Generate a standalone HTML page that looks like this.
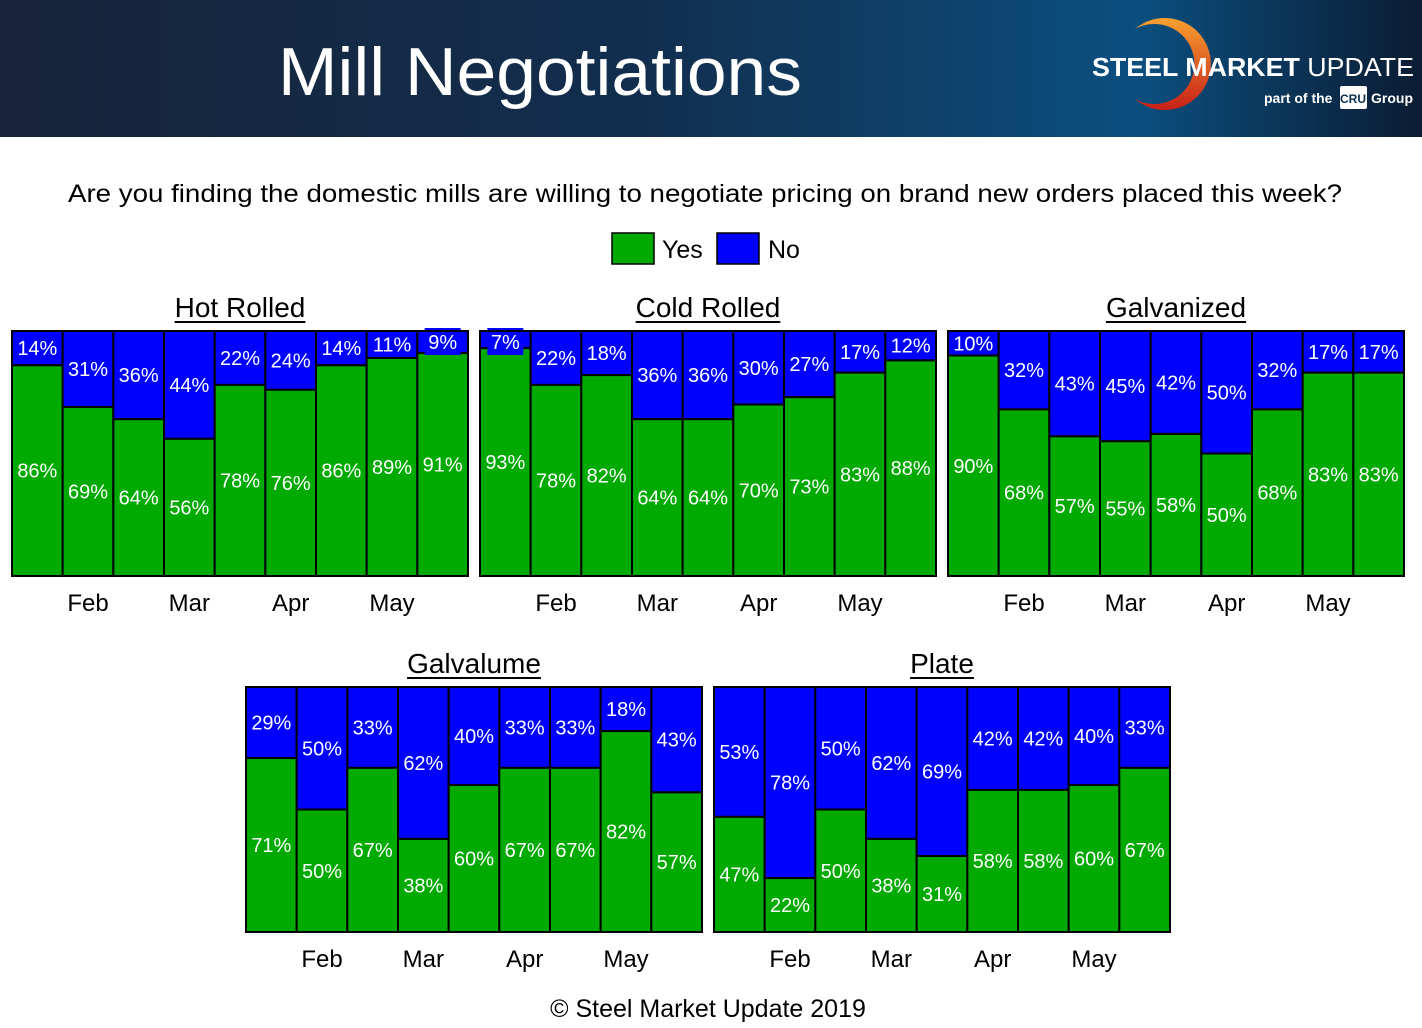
<!DOCTYPE html>
<html><head><meta charset="utf-8"><style>
body{margin:0;width:1422px;height:1028px;overflow:hidden;background:#fff;font-family:"Liberation Sans",sans-serif}
svg{display:block}
</style></head><body>
<svg id="s" width="1422" height="1028" xmlns="http://www.w3.org/2000/svg">
<defs>
<linearGradient id="hdr" x1="0" x2="1" y1="0" y2="0">
<stop offset="0" stop-color="#17243a"/><stop offset="0.45" stop-color="#122e4e"/><stop offset="0.8" stop-color="#0b4f7f"/><stop offset="1" stop-color="#0b1c33"/>
</linearGradient>
<linearGradient id="arc" x1="0" x2="0" y1="0" y2="1"><stop offset="0" stop-color="#f7a030"/><stop offset="1" stop-color="#c82018"/></linearGradient>
</defs>
<rect x="0" y="0" width="1422" height="137" fill="url(#hdr)"/>
<text x="540" y="95" font-size="68" fill="#fff" text-anchor="middle" textLength="524" lengthAdjust="spacingAndGlyphs">Mill Negotiations</text>
<g>
<path d="M1140,35 A46,46 0 1 1 1140,105 A40,40 0 1 0 1140,35 Z" fill="url(#arc)" transform="translate(-5,-6)"/>
<text x="1092" y="76" font-size="26" font-weight="bold" fill="#fff" textLength="322" lengthAdjust="spacingAndGlyphs">STEEL MARKET <tspan font-weight="normal">UPDATE</tspan></text>
<text x="1264" y="103" font-size="14" font-weight="bold" fill="#fff">part of the</text>
<rect x="1340" y="86" width="27" height="23" rx="2" fill="#fff"/>
<text x="1353" y="103" font-size="12" font-weight="bold" fill="#0b3050" text-anchor="middle">CRU</text>
<text x="1371" y="103" font-size="14" font-weight="bold" fill="#fff">Group</text>
</g>
<text x="705" y="202" font-size="25" fill="#000" text-anchor="middle" textLength="1274" lengthAdjust="spacingAndGlyphs">Are you finding the domestic mills are willing to negotiate pricing on brand new orders placed this week?</text>
<g>
<rect x="612" y="233" width="42" height="31" fill="#00aa00" stroke="#000" stroke-width="1.5"/>
<text x="662" y="258" font-size="25">Yes</text>
<rect x="717" y="233" width="42" height="31" fill="#0000ff" stroke="#000" stroke-width="1.5"/>
<text x="768" y="258" font-size="25">No</text>
</g>
<text x="708" y="1017" font-size="25" text-anchor="middle">© Steel Market Update 2019</text>
</svg>
<script>
const months = ["Feb","Mar","Apr","May"];
const monthIdx = [1,3,5,7];
const titles = ["Hot Rolled","Cold Rolled","Galvanized","Galvalume","Plate"];
const hotYes = [86,69,64,56,78,76,86,89,91];
const hotNo = [14,31,36,44,22,24,14,11,9];
const coldYes = [93,78,82,64,64,70,73,83,88];
const coldNo = [7,22,18,36,36,30,27,17,12];
const galvYes = [90,68,57,55,58,50,68,83,83];
const galvNo = [10,32,43,45,42,50,32,17,17];
const galvalumeYes = [71,50,67,38,60,67,67,82,57];
const galvalumeNo = [29,50,33,62,40,33,33,18,43];
const plateYes = [47,22,50,38,31,58,58,60,67];
const plateNo = [53,78,50,62,69,42,42,40,33];
const NS="http://www.w3.org/2000/svg";
const svg=document.getElementById('s');
function el(t,a,p){const e=document.createElementNS(NS,t);for(const k in a)e.setAttribute(k,a[k]);(p||svg).appendChild(e);return e;}
const panels=[
 {x:12,y:331,yes:hotYes,no:hotNo},
 {x:480,y:331,yes:coldYes,no:coldNo},
 {x:948,y:331,yes:galvYes,no:galvNo},
 {x:246,y:687,yes:galvalumeYes,no:galvalumeNo},
 {x:714,y:687,yes:plateYes,no:plateNo}];
const W=456,H=245;
panels.forEach((p,pi)=>{
 const g=el('g',{});
 
 
 const n=p.yes.length, bw=W/n;
 const ys=v=>p.y+H-v/100*H;
 const t=el('text',{x:p.x+W/2,y:p.y-14,'font-size':28,'text-anchor':'middle'},g);
 t.textContent=titles[pi];
 
 
 const tl=t.getComputedTextLength();
 const ul=el('rect',{x:p.x+W/2-tl/2,y:p.y-10,width:tl,height:2,fill:'#000'},g);
 
 
 for(let i=0;i<n;i++){
  const x=p.x+i*bw, yT=ys(p.yes[i]);
  const b=el('rect',{x:x,y:p.y,width:bw,height:yT-p.y,fill:'#0000ff',stroke:'#000','stroke-width':2},g);
  
  
  const a=el('rect',{x:x,y:yT,width:bw,height:p.y+H-yT,fill:'#00aa00',stroke:'#000','stroke-width':2},g);
  
  
  const noH=yT-p.y;
  if(noH<24){
   const bg=el('rect',{x:x+bw/2-18,y:p.y-3,width:36,height:27,fill:'#0000ff'},g);
   
   
  }
  const ln=el('text',{x:x+bw/2,y:p.y+Math.max(noH,22)/2+7,'font-size':20,fill:'#fff','text-anchor':'middle'},g);
  ln.textContent=p.no[i]+'%';
  
  
  const ly=el('text',{x:x+bw/2,y:(yT+p.y+H)/2+7,'font-size':20,fill:'#fff','text-anchor':'middle'},g);
  ly.textContent=p.yes[i]+'%';
  
  
 }
 const fr=el('rect',{x:p.x,y:p.y,width:W,height:H,fill:'none',stroke:'#000','stroke-width':2},g);
 
 
 months.forEach((m,k)=>{
  const mt=el('text',{x:p.x+(monthIdx[k]+0.5)*bw,y:p.y+H+35,'font-size':24,'text-anchor':'middle'},g);
  mt.textContent=m;
  
  
 });
});
</script>
</body></html>
